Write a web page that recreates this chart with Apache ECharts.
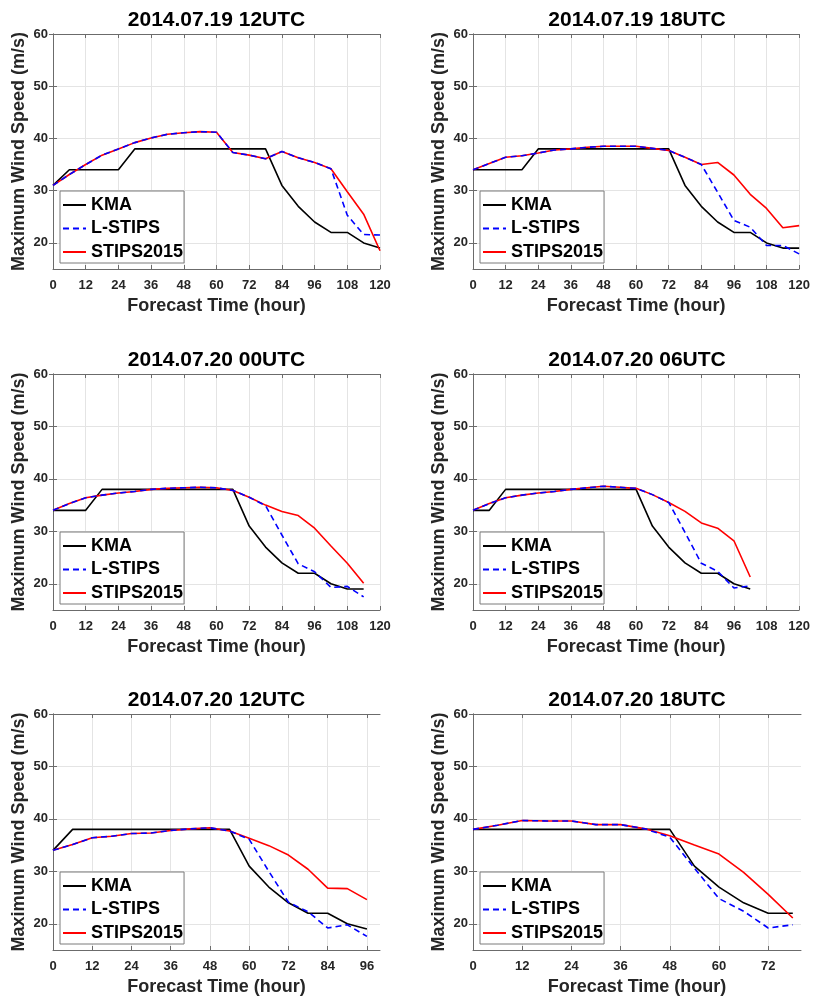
<!DOCTYPE html>
<html><head><meta charset="utf-8">
<script src="https://cdn.jsdelivr.net/npm/echarts@6/dist/echarts.min.js"></script>
<style>html,body{margin:0;padding:0;background:#fff}#c{width:813px;height:1002px}</style>
</head><body><div id="c"></div>
<script>
// ---------- DATA ----------
const seriesNames = ['KMA', 'L-STIPS', 'STIPS2015'];
const panelTitles = ['2014.07.19 12UTC', '2014.07.19 18UTC', '2014.07.20 00UTC',
                     '2014.07.20 06UTC', '2014.07.20 12UTC', '2014.07.20 18UTC'];
const yTicks = [20, 30, 40, 50, 60];
const xTicks120 = [0, 12, 24, 36, 48, 60, 72, 84, 96, 108, 120];
const xTicks96 = [0, 12, 24, 36, 48, 60, 72, 84, 96];
const xTicks72 = [0, 12, 24, 36, 48, 60, 72];

// panel 1 : 2014.07.19 12UTC
const p1Hours = [0,6,12,18,24,30,36,42,48,54,60,66,72,78,84,90,96,102,108,114,120];
const p1KMA   = [31,34,34,34,34,38,38,38,38,38,38,38,38,38,31,27,24,22,22,20,19];
const p1LSTIPS= [31,33.1,35.0,36.8,38.0,39.2,40.1,40.8,41.1,41.3,41.2,37.3,36.8,36.1,37.5,36.3,35.4,34.2,25.3,21.6,21.5];
const p1STIPS = [31,33.1,35.0,36.8,38.0,39.2,40.1,40.8,41.1,41.3,41.2,37.3,36.8,36.1,37.5,36.3,35.4,34.2,29.8,25.5,18.5];

// panel 2 : 2014.07.19 18UTC
const p2Hours = [0,6,12,18,24,30,36,42,48,54,60,66,72,78,84,90,96,102,108,114,120];
const p2KMA   = [34,34,34,34,38,38,38,38,38,38,38,38,38,31,27,24,22,22,20,19,19];
const p2LSTIPS= [34,35.2,36.4,36.7,37.2,37.8,38.0,38.3,38.5,38.5,38.5,38.1,37.7,36.4,35.0,29.7,24.3,23.0,19.5,19.5,17.9];
const p2STIPS = [34,35.2,36.4,36.7,37.2,37.8,38.0,38.3,38.5,38.5,38.5,38.1,37.7,36.4,35.0,35.4,33.0,29.3,26.6,22.9,23.3];

// panel 3 : 2014.07.20 00UTC
const p3Hours = [0,6,12,18,24,30,36,42,48,54,60,66,72,78,84,90,96,102,108,114];
const p3KMA   = [34,34,34,38,38,38,38,38,38,38,38,38,31,27,24,22,22,20,19,19];
const p3LSTIPS= [34,35.3,36.4,36.9,37.3,37.6,38.0,38.2,38.3,38.4,38.3,37.8,36.5,34.9,29.3,23.8,22.3,19.3,19.5,17.5];
const p3STIPS = [34,35.3,36.4,36.9,37.3,37.6,38.0,38.2,38.3,38.4,38.3,37.8,36.5,35.0,33.8,33.0,30.6,27.2,23.9,20.1];

// panel 4 : 2014.07.20 06UTC
const p4Hours = [0,6,12,18,24,30,36,42,48,54,60,66,72,78,84,90,96,102];
const p4KMA   = [34,34,38,38,38,38,38,38,38,38,38,31,27,24,22,22,20,19];
const p4LSTIPS= [34,35.3,36.4,36.9,37.3,37.6,38.0,38.3,38.6,38.4,38.2,37.0,35.5,29.8,23.9,22.4,19.2,19.6];
const p4STIPS = [34,35.3,36.4,36.9,37.3,37.6,38.0,38.3,38.6,38.4,38.2,37.0,35.5,33.8,31.6,30.6,28.2,21.3];

// panel 5 : 2014.07.20 12UTC
const p5Hours = [0,6,12,18,24,30,36,42,48,54,60,66,72,78,84,90,96];
const p5KMA   = [34,38,38,38,38,38,38,38,38,38,31,27,24,22,22,20,19];
const p5LSTIPS= [34,35.1,36.4,36.7,37.2,37.3,37.8,38.1,38.3,37.7,36.1,30.0,24.1,22.3,19.2,19.8,17.6];
const p5STIPS = [34,35.1,36.4,36.7,37.2,37.3,37.8,38.1,38.3,37.7,36.3,34.9,33.1,30.4,26.8,26.7,24.6];

// panel 6 : 2014.07.20 18UTC
const p6Hours = [0,6,12,18,24,30,36,42,48,54,60,66,72,78];
const p6KMA   = [38,38,38,38,38,38,38,38,38,31,27,24,22,22];
const p6LSTIPS= [38.0,38.8,39.7,39.6,39.6,38.9,38.9,38.1,36.5,30.6,24.8,22.4,19.2,19.8];
const p6STIPS = [38.0,38.8,39.7,39.6,39.6,38.9,38.9,38.1,36.8,35.0,33.3,29.8,25.6,21.1];

const panelData = [
  {hours: p1Hours, vals: [p1KMA, p1LSTIPS, p1STIPS], xMax: 120, xTicks: xTicks120},
  {hours: p2Hours, vals: [p2KMA, p2LSTIPS, p2STIPS], xMax: 120, xTicks: xTicks120},
  {hours: p3Hours, vals: [p3KMA, p3LSTIPS, p3STIPS], xMax: 120, xTicks: xTicks120},
  {hours: p4Hours, vals: [p4KMA, p4LSTIPS, p4STIPS], xMax: 120, xTicks: xTicks120},
  {hours: p5Hours, vals: [p5KMA, p5LSTIPS, p5STIPS], xMax: 100, xTicks: xTicks96},
  {hours: p6Hours, vals: [p6KMA, p6LSTIPS, p6STIPS], xMax: 80,  xTicks: xTicks72}
];

// ---------- LAYOUT / STYLE ----------
const boxes = [
  {left: 53,  top: 34,  w: 327, h: 235},
  {left: 473, top: 34,  w: 328, h: 235},
  {left: 53,  top: 374, w: 327, h: 236},
  {left: 473, top: 374, w: 328, h: 236},
  {left: 53,  top: 714, w: 327, h: 236},
  {left: 473, top: 714, w: 328, h: 236}
];
const titleY = [20, 20, 360, 360, 700, 700];
const FONT = '"Liberation Sans", Arial, sans-serif';
const AXIS_COLOR = '#6b6b6b';
const TEXT_COLOR = '#262626';
const GRID_COLOR = '#e4e4e4';
const lineColors = ['#000000', '#0000ff', '#ff0000'];
const lineTypes = ['solid', [6, 4], 'solid'];
const lineZ = [2, 4, 3];

const grid = [], xAxis = [], yAxis = [], series = [], legend = [], graphic = [];

boxes.forEach((b, i) => {
  const pd = panelData[i];
  grid.push({left: b.left, top: b.top, width: b.w, height: b.h, containLabel: false});
  const axLine = {show: true, lineStyle: {color: AXIS_COLOR, width: 1}};
  const tick = {show: true, inside: true, length: 4, lineStyle: {color: AXIS_COLOR}};
  // bottom x axis
  xAxis.push({
    type: 'value', gridIndex: i, position: 'bottom', min: 0, max: pd.xMax,
    axisLine: axLine,
    axisTick: Object.assign({}, tick, {customValues: pd.xTicks}),
    axisLabel: {customValues: pd.xTicks, margin: 10, color: TEXT_COLOR, fontFamily: FONT, fontSize: 13, fontWeight: 'bold'},
    splitLine: {show: true, lineStyle: {color: GRID_COLOR, width: 1}},
    name: 'Forecast Time (hour)', nameLocation: 'middle', nameGap: 28,
    nameTextStyle: {color: TEXT_COLOR, fontFamily: FONT, fontSize: 18, fontWeight: 'bold'}
  });
  // top mirror x axis
  xAxis.push({
    type: 'value', gridIndex: i, position: 'top', min: 0, max: pd.xMax,
    axisLine: axLine,
    axisTick: Object.assign({}, tick, {customValues: pd.xTicks}),
    axisLabel: {show: false}, splitLine: {show: false}
  });
  // left y axis
  yAxis.push({
    type: 'value', gridIndex: i, position: 'left', min: 15, max: 60,
    axisLine: axLine,
    axisTick: Object.assign({}, tick, {customValues: yTicks}),
    axisLabel: {customValues: yTicks, margin: 5, color: TEXT_COLOR, fontFamily: FONT, fontSize: 13, fontWeight: 'bold'},
    splitLine: {show: true, lineStyle: {color: GRID_COLOR, width: 1}},
    name: 'Maximum Wind Speed (m/s)', nameLocation: 'middle', nameGap: 25,
    nameTextStyle: {color: TEXT_COLOR, fontFamily: FONT, fontSize: 18, fontWeight: 'bold'}
  });
  // right mirror y axis
  yAxis.push({
    type: 'value', gridIndex: i, position: 'right', min: 15, max: 60,
    axisLine: axLine,
    axisTick: Object.assign({}, tick, {customValues: yTicks}),
    axisLabel: {show: false}, splitLine: {show: false}
  });

  seriesNames.forEach((name, k) => {
    series.push({
      type: 'line', name: name,
      xAxisIndex: 2 * i, yAxisIndex: 2 * i,
      data: pd.hours.map((h, j) => [h, pd.vals[k][j]]),
      symbol: 'none', z: lineZ[k], animation: false,
      lineStyle: {color: lineColors[k], width: 1.6, type: lineTypes[k]},
      itemStyle: {color: lineColors[k]}
    });
  });

  legend.push({
    data: seriesNames, orient: 'vertical',
    left: b.left + 7, top: b.top + b.h - 78,
    padding: [5, 1, 2, 2], itemGap: 5.5, itemWidth: 23, itemHeight: 12,
    backgroundColor: '#ffffff', borderColor: '#7a7a7a', borderWidth: 1, borderRadius: 0,
    itemStyle: {color: 'transparent', borderColor: 'transparent', borderWidth: 0, opacity: 0},
    textStyle: {color: '#000', fontFamily: FONT, fontSize: 18, fontWeight: 'bold'},
    selectedMode: false
  });

  graphic.push({
    type: 'text', x: b.left + b.w / 2, y: titleY[i], silent: true,
    style: {text: panelTitles[i], textAlign: 'center', textVerticalAlign: 'middle',
            fill: '#000', font: 'bold 21px ' + FONT}
  });
});

const chart = echarts.init(document.getElementById('c'), null, {renderer: 'canvas'});
chart.setOption({
  animation: false, backgroundColor: '#ffffff',
  grid, xAxis, yAxis, series, legend, graphic
});
</script></body></html>
